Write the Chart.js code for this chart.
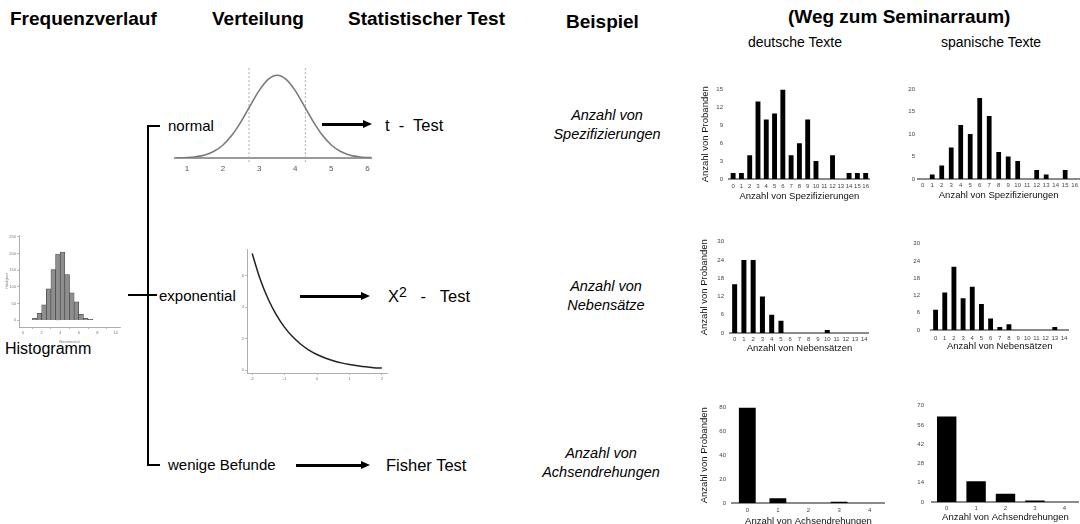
<!DOCTYPE html>
<html lang="de">
<head>
<meta charset="utf-8">
<title>Frequenzverlauf, Verteilung, Statistischer Test</title>
<script src="https://cdn.jsdelivr.net/npm/chart.js@4.4.0/dist/chart.umd.min.js"></script>
<style>
  html, body { margin: 0; padding: 0; background: #fff; }
  body {
    width: 1080px; height: 524px; position: relative; overflow: hidden;
    font-family: "Liberation Sans", Arial, Helvetica, sans-serif; color: #000;
  }
  .t { position: absolute; white-space: nowrap; transform: translateY(-50%); line-height: 1.15; }
  .h { font-weight: bold; font-size: 19px; }
  .sub { font-size: 14px; }
  .mid { font-size: 15px; }
  .test { font-size: 16.5px; }
  .bsp { position: absolute; width: 170px; text-align: center; font-style: italic; font-size: 14.5px; line-height: 19px; }
  canvas { position: absolute; }
  .ln { position: absolute; background: #000; }
  .arrow { position: absolute; height: 3px; background: #000; }
  .arrow::after {
    content: ""; position: absolute; right: -9px; top: -3px;
    border-left: 9px solid #000; border-top: 4.5px solid transparent; border-bottom: 4.5px solid transparent;
  }
  sup { font-size: 0.85em; line-height: 0; vertical-align: 0.35em; }
</style>
</head>
<body>

<!-- Überschriften -->
<div class="t h" style="left:10px; top:19px;">Frequenzverlauf</div>
<div class="t h" style="left:212px; top:19px;">Verteilung</div>
<div class="t h" style="left:348px; top:19px;">Statistischer Test</div>
<div class="t h" style="left:566px; top:22px;">Beispiel</div>
<div class="t h" style="left:788px; top:17px;">(Weg zum Seminarraum)</div>
<div class="t sub" style="left:748px; top:42px;">deutsche Texte</div>
<div class="t sub" style="left:941px; top:42px;">spanische Texte</div>

<!-- linke Spalte -->
<div class="t" style="left:5px; top:349px; font-size:16px;">Histogramm</div>

<!-- Klammer -->
<div class="ln" style="left:147px; top:125px; width:2px; height:341px;"></div>
<div class="ln" style="left:147px; top:125px; width:13px; height:2px;"></div>
<div class="ln" style="left:147px; top:464px; width:13px; height:2px;"></div>
<div class="ln" style="left:128px; top:294px; width:29px; height:2px;"></div>

<div class="t mid" style="left:168px; top:126px;">normal</div>
<div class="t mid" style="left:159px; top:296px;">exponential</div>
<div class="t mid" style="left:168px; top:465px;">wenige Befunde</div>

<!-- Pfeile -->
<div class="arrow" style="left:322px; top:123px; width:41px;"></div>
<div class="arrow" style="left:300px; top:295px; width:61px;"></div>
<div class="arrow" style="left:296px; top:464px; width:65px;"></div>

<div class="t test" style="left:385px; top:125px;">t &nbsp;-&nbsp; Test</div>
<div class="t test" style="left:388px; top:296px;">Χ<sup>2</sup> &nbsp; - &nbsp; Test</div>
<div class="t test" style="left:386px; top:465px;">Fisher Test</div>

<!-- Beispiele -->
<div class="bsp" style="left:522px; top:106px;">Anzahl von<br>Spezifizierungen</div>
<div class="bsp" style="left:521px; top:277px;">Anzahl von<br>Nebensätze</div>
<div class="bsp" style="left:516px; top:444px;">Anzahl von<br>Achsendrehungen</div>

<canvas id="hist"></canvas>
<canvas id="normal"></canvas>
<canvas id="expo"></canvas>
<canvas id="spezDe"></canvas>
<canvas id="spezEs"></canvas>
<canvas id="nebenDe"></canvas>
<canvas id="nebenEs"></canvas>
<canvas id="achsenDe"></canvas>
<canvas id="achsenEs"></canvas>

<script>
// --- Daten ---
const spezLabels = ['0','1','2','3','4','5','6','7','8','9','10','11','12','13','14','15','16'];
const spezDeutsch = [1, 1, 4, 13, 10, 11, 15, 4, 6, 10, 3, 0, 4, 0, 1, 1, 1];
const spezSpanisch = [0, 1, 3, 7, 12, 10, 18, 14, 6, 5, 4, 0, 2, 1, 0, 2, 0];
const spezDeTicks = [0, 3, 6, 9, 12, 15];
const spezEsTicks = [0, 5, 10, 15, 20];

const nebenLabels = ['0','1','2','3','4','5','6','7','8','9','10','11','12','13','14'];
const nebenDeutsch = [16, 24, 24, 12, 6, 4, 0, 0, 0, 0, 1, 0, 0, 0, 0];
const nebenSpanisch = [7, 13, 22, 11, 15, 9, 4, 1, 2, 0, 0, 0, 0, 1, 0];
const nebenTicks = [0, 6, 12, 18, 24, 30];

const achsenLabels = ['0','1','2','3','4'];
const achsenDeutsch = [80, 4, 0, 1, 0];
const achsenSpanisch = [62, 15, 6, 1, 0];
const achsenDeTicks = [0, 20, 40, 60, 80];
const achsenEsTicks = [0, 14, 28, 42, 56, 70];

// Histogramm (Klassenmitten, Häufigkeiten)
const histMitte = [1.25, 1.75, 2.25, 2.75, 3.25, 3.75, 4.25, 4.75, 5.25, 5.75, 6.25, 6.75, 7.25];
const histAnzahl = [6, 21, 46, 94, 152, 198, 204, 137, 82, 55, 18, 6, 3];
const histXTicks = [0, 2, 4, 6, 8, 10];
const histYTicks = [0, 50, 100, 150, 200, 250];

// Normalverteilung
const normX = [0.7, 1.0, 1.25, 1.5, 1.75, 2.0, 2.25, 2.5, 2.75, 3.0, 3.25, 3.5, 3.75, 4.0, 4.25, 4.5, 4.75, 5.0, 5.25, 5.5, 5.75, 6.0, 6.1];
const normY = [0.002, 0.006, 0.016, 0.037, 0.081, 0.157, 0.277, 0.44, 0.63, 0.814, 0.95, 1, 0.95, 0.814, 0.63, 0.44, 0.277, 0.157, 0.081, 0.037, 0.016, 0.006, 0.004];
const normGrenzen = [2.72, 4.28];
const normTicks = [1, 2, 3, 4, 5, 6];

// Exponentialverteilung
const expX = [-2, -1.75, -1.5, -1.25, -1, -0.75, -0.5, -0.25, 0, 0.25, 0.5, 0.75, 1, 1.25, 1.5, 1.75, 2];
const expY = [7.39, 5.75, 4.48, 3.49, 2.72, 2.12, 1.65, 1.28, 1, 0.78, 0.61, 0.47, 0.37, 0.29, 0.22, 0.17, 0.14];
const expXTicks = [-2, -1, 0, 1, 2];
const expYTicks = [0, 2, 4, 6];

Chart.defaults.font.family = '"Liberation Sans", Arial, Helvetica, sans-serif';
Chart.defaults.animation = false;
Chart.defaults.plugins.legend.display = false;
Chart.defaults.plugins.tooltip.enabled = false;

function place(id, left, top, w, h) {
    const c = document.getElementById(id);
    c.width = w; c.height = h;
    c.style.left = left + 'px'; c.style.top = top + 'px';
    c.style.width = w + 'px'; c.style.height = h + 'px';
    return c;
}

function fixedTicks(list) {
    return scale => { scale.ticks = list.map(v => ({ value: v })); };
}

// kleine Balkendiagramme rechts
function smallBars(id, labels, values, yMax, yTicks, box) {
    const canvas = place(id, box.left, box.top, box.w, box.h);
    new Chart(canvas, {
        type: 'bar',
        data: {
            labels: labels,
            datasets: [{ data: values, backgroundColor: '#000', barPercentage: box.bar, categoryPercentage: 1 }]
        },
        options: {
            responsive: false,
            layout: { padding: { top: box.pt, right: 0, left: 0, bottom: 0 } },
            scales: {
                x: {
                    grid: { display: false, drawTicks: false },
                    border: { display: true, color: '#8a8a8a', width: 2 },
                    ticks: { font: { size: 6 }, color: '#444', padding: box.xp, maxRotation: 0, autoSkip: false },
                    title: { display: true, text: box.xt, font: { size: 9.5 }, color: '#111', padding: { top: 0, bottom: box.tb } },
                    afterFit: s => { s.height = box.xh; }
                },
                y: {
                    min: 0, max: yMax,
                    afterBuildTicks: fixedTicks(yTicks),
                    grid: { display: false, drawTicks: false },
                    border: { display: false },
                    ticks: { font: { size: 6 }, color: '#444', padding: box.yp },
                    title: { display: !!box.yt, text: box.yt || '', font: { size: 9.5 }, color: '#111', padding: { top: box.tl || 0, bottom: 0 } },
                    afterFit: s => { s.width = box.yw; }
                }
            }
        }
    });
}

const probanden = 'Anzahl von Probanden';

smallBars('spezDe', spezLabels, spezDeutsch, 15, spezDeTicks,
    { left: 695, top: 80, w: 178, h: 124, yw: 34, pt: 9, xh: 25, xp: 4, tb: 2.3, yp: 6, yt: probanden, tl: 4.3, bar: 0.59, xt: 'Anzahl von Spezifizierungen' });
smallBars('spezEs', spezLabels, spezSpanisch, 20, spezEsTicks,
    { left: 880, top: 80, w: 201, h: 124, yw: 38, pt: 9, xh: 25, xp: 3, tb: 3.3, yp: 3, bar: 0.5, xt: 'Anzahl von Spezifizierungen' });
smallBars('nebenDe', nebenLabels, nebenDeutsch, 30, nebenTicks,
    { left: 695, top: 232, w: 175, h: 123, yw: 35, pt: 8, xh: 22, xp: 2.3, tb: 1, yp: 6, yt: probanden, tl: 4, bar: 0.54, xt: 'Anzahl von Nebensätzen' });
smallBars('nebenEs', nebenLabels, nebenSpanisch, 30, nebenTicks,
    { left: 881, top: 229, w: 191, h: 124, yw: 50, pt: 8, xh: 23, xp: 4.7, tb: 0.6, yp: 11, bar: 0.53, xt: 'Anzahl von Nebensätzen' });
smallBars('achsenDe', achsenLabels, achsenDeutsch, 80, achsenDeTicks,
    { left: 695, top: 398, w: 190, h: 129, yw: 37, pt: 8, xh: 24, xp: 4, tb: 0.3, yp: 6, yt: probanden, tl: 4, bar: 0.55, xt: 'Anzahl von Achsendrehungen' });
smallBars('achsenEs', achsenLabels, achsenSpanisch, 70, achsenEsTicks,
    { left: 882, top: 394, w: 197, h: 130, yw: 50, pt: 8, xh: 22, xp: 3, tb: 0.6, yp: 8, bar: 0.66, xt: 'Anzahl von Achsendrehungen' });

// R-artige Achsen für die kleinen Verteilungsbilder
function rAxis(extra) {
    return Object.assign({
        grid: { display: true, drawOnChartArea: false, drawTicks: true, tickLength: 2, color: '#999', lineWidth: 0.7 },
        border: { display: true, color: '#999', width: 0.8 },
        ticks: { font: { size: 4 }, color: '#777', padding: 1, maxRotation: 0, autoSkip: false }
    }, extra);
}

// Histogramm
new Chart(place('hist', 2, 225, 125, 122), {
    type: 'bar',
    data: {
        datasets: [{
            data: histMitte.map((x, i) => ({ x: x, y: histAnzahl[i] })),
            backgroundColor: '#8e8e8e', borderColor: '#3a3a3a', borderWidth: 0.6,
            barPercentage: 1, categoryPercentage: 1
        }]
    },
    options: {
        responsive: false,
        layout: { padding: { top: 10, right: 7, left: 0, bottom: 0 } },
        scales: {
            x: rAxis({
                type: 'linear', min: -0.45, max: 10.45, offset: false,
                afterBuildTicks: fixedTicks(histXTicks),
                title: { display: true, text: 'Wertebereich', font: { size: 3.5 }, color: '#777', padding: { top: 0, bottom: 3 } },
                afterFit: s => { s.height = 20; }
            }),
            y: rAxis({
                min: -20, max: 255,
                afterBuildTicks: fixedTicks(histYTicks),
                title: { display: true, text: 'Häufigkeit', font: { size: 3.5 }, color: '#777', padding: { top: 3, bottom: 0 } },
                afterFit: s => { s.width = 17; }
            })
        }
    }
});

// Normalverteilung
new Chart(place('normal', 165, 60, 215, 125), {
    type: 'line',
    data: {
        datasets: [
            {
                data: normX.map((x, i) => ({ x: x, y: normY[i] })),
                borderColor: '#7a7a7a', borderWidth: 1.6, pointRadius: 0,
                cubicInterpolationMode: 'monotone', fill: false
            },
            {
                data: [{ x: normGrenzen[0], y: -0.05 }, { x: normGrenzen[0], y: 1.1 }],
                borderColor: '#aaa', borderWidth: 1, borderDash: [2, 2], pointRadius: 0, clip: false
            },
            {
                data: [{ x: normGrenzen[1], y: -0.05 }, { x: normGrenzen[1], y: 1.1 }],
                borderColor: '#aaa', borderWidth: 1, borderDash: [2, 2], pointRadius: 0, clip: false
            }
        ]
    },
    options: {
        responsive: false,
        layout: { padding: { top: 7, right: 9, left: 10, bottom: 0 } },
        scales: {
            x: {
                type: 'linear', min: 0.67, max: 6.1,
                afterBuildTicks: fixedTicks(normTicks),
                grid: { display: false, drawTicks: false },
                border: { display: true, color: '#999', width: 2 },
                ticks: { font: { size: 8 }, color: '#555', padding: 6, maxRotation: 0 },
                afterFit: s => { s.height = 27; }
            },
            y: { display: false, min: 0, max: 1.1 }
        }
    }
});

// Exponentialverteilung
new Chart(place('expo', 237, 240, 155, 150), {
    type: 'line',
    data: {
        datasets: [{
            data: expX.map((x, i) => ({ x: x, y: expY[i] })),
            borderColor: '#222', borderWidth: 1.5, pointRadius: 0,
            cubicInterpolationMode: 'monotone', fill: false
        }]
    },
    options: {
        responsive: false,
        layout: { padding: { top: 9, right: 5, left: 0, bottom: 0 } },
        scales: {
            x: rAxis({
                type: 'linear', min: -2.16, max: 2.16,
                afterBuildTicks: fixedTicks(expXTicks),
                afterFit: s => { s.height = 17; }
            }),
            y: rAxis({
                min: -0.17, max: 7.68,
                afterBuildTicks: fixedTicks(expYTicks),
                afterFit: s => { s.width = 10; }
            })
        }
    }
});
</script>
</body>
</html>
